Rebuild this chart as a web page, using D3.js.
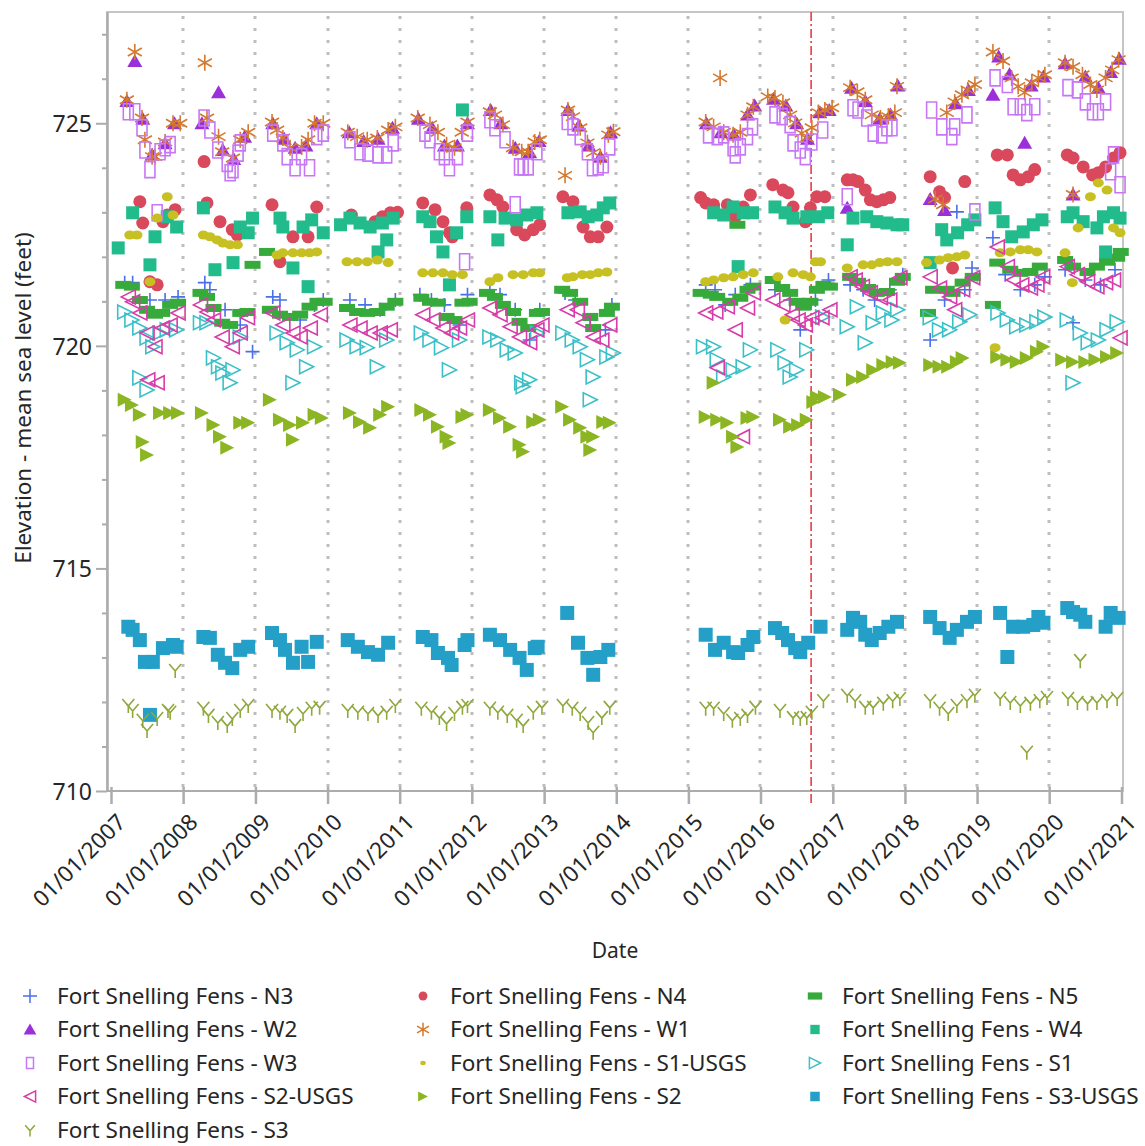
<!DOCTYPE html>
<html>
<head>
<meta charset="utf-8">
<script src="https://cdn.jsdelivr.net/npm/d3@7"></script>
<style>
body { margin:0; background:#fff; }
svg text { font-family: "Noto Sans", "Open Sans", sans-serif; fill:#262626; }
</style>
</head>
<body>
<div id="chart"></div>
<script>
// water levels, [decimal year, elevation in feet]
var n3 = [
[2007.19,721.42],[2007.30,721.42],[2007.54,721.03],[2007.75,721.03],[2007.93,721.1],
[2008.30,721.42],[2008.37,721.26],[2008.58,720.81],[2008.79,720.47],[2008.96,719.87],
[2009.24,721.1],[2009.34,721.03],[2009.62,720.58],[2009.82,720.92],[2009.94,721.03],
[2010.31,721.03],[2010.52,720.92],[2010.73,720.81],[2010.94,721.03],
[2011.28,721.15],[2011.44,721.03],[2011.62,720.92],[2011.83,720.47],[2011.94,721.15],
[2012.25,721.26],[2012.39,721.15],[2012.60,720.81],[2012.80,720.13],[2012.94,720.81],
[2013.29,721.19],[2013.43,721.03],[2013.64,720.58],[2013.85,720.36],[2013.94,720.92],
[2015.24,721.37],[2015.37,721.26],[2015.51,720.92],[2015.65,721.15],[2015.86,721.37],
[2016.20,721.26],[2016.41,721.03],[2016.55,720.36],[2016.76,721.03],[2016.94,721.48],
[2017.24,721.37],[2017.42,721.26],[2017.58,721.03],[2017.79,721.26],[2017.97,721.6],
[2018.35,720.13],[2018.55,721.03],[2018.72,723.01],[2018.83,721.26],[2018.93,721.75],
[2019.22,722.43],[2019.39,721.6],[2019.60,721.26],[2019.80,721.37],[2019.94,721.55],
[2020.22,721.71],[2020.33,720.52],[2020.50,721.48],[2020.71,721.37],[2020.91,721.71]
];
var n4 = [
[2007.40,723.24],[2007.44,722.76],[2007.54,721.44],[2007.64,721.37],[2007.72,722.79],[2007.78,722.94],[2007.89,723.06],
[2008.29,724.14],[2008.33,723.21],[2008.51,722.79],[2008.68,722.61],[2008.75,722.49],
[2009.23,723.17],[2009.34,721.89],[2009.52,722.45],[2009.73,722.45],[2009.85,723.12],
[2010.33,722.94],[2010.66,722.79],[2010.76,722.9],[2010.87,722.99],[2010.97,723.0],
[2011.32,723.21],[2011.49,723.06],[2011.60,722.79],[2011.69,722.54],[2011.73,722.45],[2011.93,723.1],
[2012.25,723.39],[2012.35,723.28],[2012.43,723.12],[2012.62,722.61],[2012.73,722.49],[2012.85,722.61],[2012.94,722.72],
[2013.26,723.35],[2013.40,723.24],[2013.54,722.67],[2013.64,722.45],[2013.75,722.45],[2013.87,722.67],
[2015.17,723.33],[2015.24,723.21],[2015.35,723.17],[2015.54,723.17],[2015.65,722.9],[2015.76,723.12],[2015.86,723.39],
[2016.17,723.62],[2016.31,723.5],[2016.38,723.44],[2016.45,723.12],[2016.62,722.79],[2016.69,723.1],[2016.78,723.35],[2016.89,723.35],
[2017.20,723.73],[2017.28,723.73],[2017.35,723.69],[2017.45,723.5],[2017.52,723.28],[2017.61,723.24],[2017.70,723.28],[2017.79,723.33],
[2018.35,723.8],[2018.48,723.46],[2018.55,723.33],[2018.66,721.75],[2018.83,723.69],
[2019.28,724.29],[2019.42,724.29],[2019.50,723.84],[2019.60,723.73],[2019.71,723.8],[2019.80,723.96],
[2020.25,724.29],[2020.33,724.22],[2020.47,724.02],[2020.60,723.84],[2020.68,723.89],[2020.78,724.02],[2020.89,724.22],[2020.98,724.34]
];
var n5 = [
[2007.17,721.37],[2007.29,721.33],[2007.40,721.03],[2007.50,720.81],[2007.61,720.7],[2007.71,720.74],[2007.82,720.92],[2007.93,720.97],
[2008.24,721.19],[2008.33,721.1],[2008.42,720.85],[2008.54,720.52],[2008.65,720.47],[2008.79,720.74],[2008.89,720.76],[2008.96,721.82],
[2009.16,722.11],[2009.20,720.81],[2009.34,720.7],[2009.48,720.65],[2009.62,720.7],[2009.75,720.88],[2009.86,720.99],[2009.96,720.99],
[2010.27,720.85],[2010.41,720.76],[2010.55,720.74],[2010.69,720.76],[2010.82,720.88],[2010.94,720.99],
[2011.30,721.08],[2011.42,720.99],[2011.53,720.97],[2011.65,720.65],[2011.76,720.58],[2011.87,720.97],[2011.97,720.99],
[2012.21,721.19],[2012.32,721.1],[2012.43,720.92],[2012.57,720.76],[2012.66,720.54],[2012.78,720.4],[2012.90,720.74],[2012.97,720.76],
[2013.25,721.26],[2013.36,721.19],[2013.50,720.99],[2013.64,720.65],[2013.68,720.4],[2013.87,720.74],[2013.94,720.88],
[2015.17,721.19],[2015.31,721.15],[2015.40,721.1],[2015.58,720.99],[2015.68,722.72],[2015.72,721.08],[2015.82,721.26],[2015.90,721.33],
[2016.17,721.48],[2016.30,721.3],[2016.41,721.19],[2016.50,720.99],[2016.59,720.88],[2016.69,720.99],[2016.78,721.26],[2016.87,721.37],[2016.96,721.33],
[2017.24,721.55],[2017.35,721.44],[2017.49,721.3],[2017.61,721.19],[2017.75,721.21],[2017.89,721.44],[2017.97,721.55],
[2018.32,720.74],[2018.39,721.26],[2018.58,721.26],[2018.66,721.19],[2018.80,721.42],[2018.94,721.55],
[2019.22,720.92],[2019.28,721.87],[2019.46,721.71],[2019.60,721.64],[2019.74,721.66],[2019.87,721.78],
[2020.22,721.93],[2020.33,721.78],[2020.53,721.66],[2020.66,721.78],[2020.80,721.89],[2020.94,721.98],[2020.99,722.11]
];
var w2 = [
[2007.22,725.5],[2007.33,726.4],[2007.44,725.1],[2007.57,724.3],[2007.75,724.55],[2007.88,725.0],
[2008.26,725.0],[2008.49,725.7],[2008.55,724.4],[2008.70,724.2],[2008.85,724.7],
[2009.24,725.0],[2009.40,724.65],[2009.55,724.45],[2009.70,724.5],[2009.85,725.0],
[2010.30,724.8],[2010.50,724.6],[2010.70,724.65],[2010.90,724.9],
[2011.26,725.1],[2011.45,724.9],[2011.62,724.5],[2011.80,724.5],[2011.94,725.0],
[2012.26,725.3],[2012.40,725.0],[2012.60,724.45],[2012.80,724.35],[2012.93,724.6],
[2013.33,725.3],[2013.48,724.95],[2013.62,724.5],[2013.78,724.25],[2013.92,724.8],
[2015.25,725.0],[2015.45,724.8],[2015.63,724.75],[2015.82,725.2],[2015.92,725.4],
[2016.18,725.55],[2016.35,725.4],[2016.50,725.0],[2016.65,724.65],[2016.82,725.25],[2016.95,725.3],
[2017.20,723.1],[2017.26,725.8],[2017.45,725.5],[2017.65,725.1],[2017.80,725.2],[2017.90,725.85],
[2018.35,723.3],[2018.55,723.05],[2018.70,725.45],[2018.88,725.75],
[2019.22,725.64],[2019.30,726.5],[2019.45,726.1],[2019.66,724.56],[2019.75,725.85],[2019.92,726.05],
[2020.22,726.35],[2020.33,723.4],[2020.50,726.05],[2020.68,725.8],[2020.85,726.15],[2020.97,726.45]
];
var w1 = [
[2007.22,725.53],[2007.33,726.6],[2007.43,725.12],[2007.47,724.63],[2007.57,724.25],[2007.61,724.25],[2007.75,724.58],[2007.86,725.0],[2007.96,725.0],
[2008.30,726.36],[2008.33,725.12],[2008.49,724.7],[2008.54,724.36],[2008.69,724.22],[2008.79,724.63],[2008.90,724.8],
[2009.23,725.03],[2009.30,724.85],[2009.38,724.67],[2009.48,724.45],[2009.64,724.47],[2009.73,724.63],[2009.82,725.0],[2009.94,725.0],
[2010.28,724.8],[2010.41,724.7],[2010.55,724.63],[2010.69,724.67],[2010.84,724.85],[2010.94,724.92],
[2011.25,725.12],[2011.42,724.97],[2011.53,724.8],[2011.65,724.52],[2011.76,724.45],[2011.86,724.8],[2011.94,725.03],
[2012.25,725.26],[2012.32,725.19],[2012.43,724.97],[2012.57,724.45],[2012.69,724.36],[2012.78,724.36],[2012.87,724.58],[2012.94,724.63],
[2013.29,723.83],[2013.33,725.3],[2013.40,725.15],[2013.50,724.9],[2013.60,724.56],[2013.68,724.34],[2013.78,724.25],[2013.89,724.74],[2013.96,724.81],
[2015.24,725.03],[2015.35,724.92],[2015.44,726.02],[2015.49,724.8],[2015.62,724.74],[2015.72,724.8],[2015.82,725.19],[2015.90,725.37],
[2016.10,725.6],[2016.20,725.57],[2016.31,725.46],[2016.41,725.19],[2016.48,725.01],[2016.57,724.78],[2016.64,724.67],[2016.71,724.9],[2016.80,725.24],[2016.89,725.3],[2016.99,725.35],
[2017.24,725.8],[2017.34,725.71],[2017.45,725.53],[2017.54,725.19],[2017.66,725.12],[2017.77,725.15],[2017.86,725.24],[2017.89,725.83],
[2018.42,723.3],[2018.53,723.17],[2018.58,725.24],[2018.69,725.48],[2018.79,725.64],[2018.87,725.75],[2018.97,725.87],
[2019.22,726.6],[2019.36,726.4],[2019.48,726.02],[2019.57,725.83],[2019.66,725.69],[2019.76,725.91],[2019.85,726.02],[2019.94,726.09],
[2020.22,726.36],[2020.33,726.27],[2020.33,723.4],[2020.46,726.09],[2020.57,725.87],[2020.66,725.75],[2020.78,726.02],[2020.87,726.2],[2020.96,726.43]
];
var w4 = [
[2007.10,722.2],[2007.30,722.99],[2007.54,721.82],[2007.61,722.45],[2007.78,722.9],[2007.91,722.67],
[2008.28,723.1],[2008.44,721.71],[2008.69,721.87],[2008.79,722.67],[2008.90,722.54],[2008.96,722.87],
[2009.34,722.87],[2009.38,722.67],[2009.52,721.75],[2009.66,722.67],[2009.73,721.33],[2009.78,722.83],[2009.94,722.54],
[2010.18,722.72],[2010.31,722.87],[2010.45,722.76],[2010.59,722.67],[2010.70,722.11],[2010.76,722.76],[2010.82,722.38],[2010.91,722.87],
[2011.32,722.9],[2011.42,722.79],[2011.51,722.45],[2011.60,722.11],[2011.69,721.37],[2011.79,722.54],[2011.87,725.3],[2011.93,722.9],
[2012.25,722.9],[2012.36,722.38],[2012.46,722.87],[2012.62,722.83],[2012.76,722.94],[2012.90,722.99],
[2013.33,722.99],[2013.50,723.01],[2013.61,722.9],[2013.73,722.94],[2013.82,723.1],[2013.91,723.21],
[2015.35,722.99],[2015.49,722.94],[2015.62,723.12],[2015.69,721.78],[2015.76,722.99],[2015.89,722.99],
[2016.20,723.12],[2016.34,722.99],[2016.45,722.87],[2016.64,722.9],[2016.80,722.9],[2016.93,722.99],
[2017.20,722.27],[2017.28,722.87],[2017.47,722.9],[2017.61,722.79],[2017.75,722.76],[2017.89,722.72],[2017.97,722.72],
[2018.35,721.87],[2018.51,722.61],[2018.58,722.38],[2018.73,722.54],[2018.87,722.72],[2018.97,722.83],
[2019.25,723.1],[2019.36,722.79],[2019.48,722.45],[2019.64,722.56],[2019.78,722.72],[2019.90,722.83],
[2020.25,722.9],[2020.33,722.99],[2020.47,722.79],[2020.66,722.65],[2020.75,722.9],[2020.78,722.11],[2020.89,722.99],[2020.98,722.87]
];
var w3 = [
[2007.24,725.26],[2007.33,725.26],[2007.43,724.9],[2007.47,724.4],[2007.54,723.96],[2007.64,722.99],[2007.68,724.36],[2007.75,724.45],[2007.82,724.52],
[2008.29,725.12],[2008.37,724.85],[2008.48,724.4],[2008.61,724.1],[2008.65,723.89],[2008.69,723.96],[2008.76,724.33],[2008.79,724.56],
[2009.24,724.78],[2009.38,724.56],[2009.44,724.25],[2009.55,724.0],[2009.64,724.25],[2009.75,724.0],[2009.85,724.7],[2009.94,724.78],
[2010.31,724.63],[2010.45,724.36],[2010.56,724.33],[2010.70,724.29],[2010.82,724.29],[2010.91,724.56],
[2011.35,724.78],[2011.42,724.63],[2011.55,724.36],[2011.62,724.25],[2011.69,724.0],[2011.80,724.25],[2011.90,721.89],[2011.94,724.78],
[2012.25,725.08],[2012.32,724.9],[2012.46,724.63],[2012.60,723.17],[2012.66,724.02],[2012.71,724.02],[2012.78,724.02],[2012.90,724.36],
[2013.32,725.04],[2013.40,724.92],[2013.50,724.7],[2013.60,724.36],[2013.67,724.0],[2013.75,724.02],[2013.82,724.07],[2013.91,724.47],
[2015.28,724.74],[2015.40,724.7],[2015.49,724.74],[2015.62,724.45],[2015.65,724.29],[2015.72,724.47],[2015.82,724.7],[2015.89,724.92],
[2016.20,725.19],[2016.30,725.15],[2016.41,724.97],[2016.45,724.56],[2016.55,724.4],[2016.62,724.25],[2016.71,724.58],[2016.86,724.85],
[2017.20,723.35],[2017.28,725.35],[2017.35,725.3],[2017.47,725.12],[2017.56,724.78],[2017.68,724.74],[2017.75,724.9],[2017.82,724.9],
[2018.37,725.3],[2018.51,724.92],[2018.65,724.7],[2018.69,724.92],[2018.86,725.19],[2018.97,723.01],
[2019.25,726.02],[2019.42,725.87],[2019.50,725.37],[2019.60,725.37],[2019.69,725.24],[2019.80,725.37],
[2020.26,725.8],[2020.39,725.75],[2020.50,725.48],[2020.60,725.26],[2020.68,725.26],[2020.78,725.48],[2020.85,723.91],[2020.89,724.29],[2020.98,723.62]
];
var s1usgs = [
[2007.26,722.49],[2007.36,722.49],[2007.54,721.44],[2007.64,722.87],[2007.78,723.35],[2007.86,722.94],
[2008.28,722.49],[2008.37,722.45],[2008.47,722.38],[2008.55,722.31],[2008.65,722.27],[2008.75,722.27],
[2009.30,722.04],[2009.38,722.09],[2009.52,722.09],[2009.64,722.09],[2009.75,722.09],[2009.85,722.11],
[2010.27,721.89],[2010.41,721.89],[2010.55,721.89],[2010.69,721.93],[2010.84,721.87],
[2011.32,721.64],[2011.46,721.64],[2011.60,721.64],[2011.73,721.6],[2011.87,721.6],
[2012.25,721.44],[2012.36,721.53],[2012.57,721.6],[2012.71,721.6],[2012.85,721.64],[2012.94,721.64],
[2013.32,721.53],[2013.40,721.55],[2013.53,721.6],[2013.64,721.6],[2013.75,721.64],[2013.87,721.66],
[2015.24,721.44],[2015.35,721.48],[2015.49,721.53],[2015.62,721.55],[2015.76,721.6],[2015.90,721.64],
[2016.24,721.55],[2016.34,720.58],[2016.45,721.64],[2016.59,721.6],[2016.69,721.55],[2016.76,721.89],[2016.83,721.89],
[2017.20,721.75],[2017.42,721.82],[2017.54,721.82],[2017.65,721.87],[2017.76,721.89],[2017.89,721.89],
[2018.30,721.87],[2018.48,721.93],[2018.60,721.98],[2018.72,722.0],[2018.83,722.04],
[2019.25,719.96],[2019.32,722.09],[2019.46,722.11],[2019.60,722.16],[2019.71,722.16],[2019.83,722.11],
[2020.22,722.09],[2020.32,721.42],[2020.40,722.65],[2020.57,723.35],[2020.68,723.66],[2020.80,723.5],[2020.89,722.65],[2020.98,722.54]
];
var s1 = [
[2007.19,720.76],[2007.29,720.58],[2007.40,720.4],[2007.40,719.28],[2007.50,720.18],[2007.50,719.01],[2007.58,719.98],[2007.68,720.29],[2007.78,720.36],[2007.91,720.36],
[2008.24,720.52],[2008.33,720.52],[2008.42,719.73],[2008.49,719.53],[2008.55,719.39],[2008.65,719.17],[2008.69,719.46],[2008.79,720.2],
[2009.30,720.29],[2009.44,720.07],[2009.52,719.17],[2009.58,719.91],[2009.71,719.53],[2009.82,719.98],
[2010.27,720.13],[2010.41,719.98],[2010.55,719.96],[2010.69,719.53],[2010.82,720.13],
[2011.30,720.29],[2011.42,720.13],[2011.58,719.96],[2011.69,719.46],[2011.83,720.13],
[2012.25,720.2],[2012.36,720.13],[2012.49,719.91],[2012.60,719.84],[2012.69,719.17],[2012.71,719.08],[2012.80,719.24],[2012.91,720.29],
[2013.26,720.29],[2013.39,720.13],[2013.50,719.98],[2013.60,719.69],[2013.64,718.79],[2013.68,719.3],[2013.87,719.75],[2013.96,719.84],
[2015.21,719.98],[2015.35,719.98],[2015.40,719.69],[2015.49,719.3],[2015.62,719.46],[2015.76,719.53],[2015.86,719.91],
[2016.24,719.91],[2016.34,719.62],[2016.41,719.3],[2016.50,719.46],[2016.64,719.91],[2016.86,720.65],
[2017.20,720.43],[2017.34,720.88],[2017.45,720.07],[2017.56,720.52],[2017.70,720.74],[2017.82,720.58],[2017.90,720.81],
[2018.35,720.63],[2018.48,720.36],[2018.62,720.36],[2018.76,720.54],[2018.90,720.7],
[2019.29,720.74],[2019.42,720.58],[2019.55,720.43],[2019.69,720.47],[2019.83,720.54],[2019.94,720.65],
[2020.25,720.58],[2020.33,719.17],[2020.43,720.29],[2020.54,720.07],[2020.68,720.13],[2020.80,720.36],[2020.94,720.54]
];
var s2usgs = [
[2007.24,721.1],[2007.30,720.99],[2007.40,720.74],[2007.50,720.29],[2007.51,719.24],[2007.61,719.98],[2007.64,719.17],[2007.71,720.4],[2007.82,720.47],[2007.93,720.74],
[2008.24,720.92],[2008.33,720.76],[2008.42,720.58],[2008.54,720.2],[2008.68,719.98],[2008.79,720.29],[2008.89,720.63],
[2009.24,720.74],[2009.38,720.47],[2009.52,720.29],[2009.62,720.2],[2009.76,720.4],[2009.90,720.7],
[2010.31,720.47],[2010.45,720.4],[2010.59,720.29],[2010.73,720.29],[2010.87,720.36],
[2011.32,720.7],[2011.46,720.58],[2011.60,720.4],[2011.72,720.29],[2011.83,720.4],[2011.94,720.58],
[2012.25,720.85],[2012.39,720.7],[2012.53,720.43],[2012.66,720.2],[2012.80,720.07],[2012.90,720.36],[2012.97,720.47],
[2013.32,720.81],[2013.46,720.81],[2013.54,720.52],[2013.68,720.2],[2013.80,720.13],[2013.91,720.47],
[2015.24,720.74],[2015.38,720.76],[2015.40,719.51],[2015.54,720.88],[2015.65,720.36],[2015.75,717.96],[2015.82,720.85],[2015.90,721.19],
[2016.17,721.03],[2016.31,720.92],[2016.44,720.7],[2016.52,720.58],[2016.62,720.47],[2016.71,720.63],[2016.85,720.63],[2016.96,720.81],
[2017.24,721.55],[2017.31,721.48],[2017.41,721.33],[2017.52,721.19],[2017.66,721.08],[2017.79,721.03],[2017.93,721.53],
[2018.35,721.55],[2018.48,721.3],[2018.62,721.1],[2018.69,720.81],[2018.80,721.26],[2018.94,721.53],
[2019.28,722.22],[2019.42,721.78],[2019.50,721.48],[2019.62,721.37],[2019.74,721.3],[2019.83,721.37],[2019.91,721.55],
[2020.25,721.78],[2020.39,721.6],[2020.53,721.44],[2020.66,721.33],[2020.78,721.42],[2020.89,721.48],[2020.98,720.18]
];
var s2 = [
[2007.19,718.79],[2007.29,718.67],[2007.40,718.45],[2007.44,717.84],[2007.50,717.55],[2007.68,718.49],[2007.82,718.49],[2007.93,718.49],
[2008.26,718.49],[2008.42,718.22],[2008.51,717.96],[2008.61,717.71],[2008.79,718.27],[2008.90,718.27],
[2009.20,718.79],[2009.34,718.34],[2009.48,718.22],[2009.52,717.89],[2009.66,718.27],[2009.82,718.45],[2009.92,718.38],
[2010.31,718.49],[2010.45,718.29],[2010.59,718.16],[2010.73,718.45],[2010.84,718.63],
[2011.30,718.56],[2011.42,718.45],[2011.53,718.18],[2011.65,717.96],[2011.69,717.82],[2011.87,718.4],[2011.94,718.45],
[2012.25,718.56],[2012.39,718.38],[2012.53,718.18],[2012.66,717.78],[2012.71,717.62],[2012.85,718.29],[2012.94,718.34],
[2013.25,718.63],[2013.36,718.34],[2013.50,718.16],[2013.60,717.96],[2013.64,717.66],[2013.68,717.96],[2013.82,718.29],[2013.91,718.27],
[2015.24,718.4],[2015.35,719.17],[2015.40,718.34],[2015.54,718.27],[2015.62,717.96],[2015.68,717.73],[2015.82,718.38],[2015.90,718.4],
[2016.27,718.34],[2016.41,718.18],[2016.52,718.22],[2016.64,718.34],[2016.73,718.74],[2016.78,718.85],[2016.89,718.85],
[2017.10,718.9],[2017.28,719.24],[2017.42,719.3],[2017.56,719.46],[2017.70,719.57],[2017.83,719.64],[2017.93,719.62],
[2018.35,719.57],[2018.48,719.53],[2018.60,719.53],[2018.72,719.64],[2018.80,719.73],
[2019.28,719.75],[2019.42,719.69],[2019.55,719.64],[2019.69,719.73],[2019.83,719.87],[2019.92,719.98],
[2020.18,719.69],[2020.33,719.64],[2020.50,719.64],[2020.64,719.69],[2020.80,719.75],[2020.94,719.84]
];
var s3usgs = [
[2007.24,713.69],[2007.30,713.62],[2007.40,713.39],[2007.47,712.9],[2007.54,711.71],[2007.58,712.9],[2007.72,713.21],[2007.86,713.28],[2007.91,713.24],
[2008.28,713.46],[2008.37,713.44],[2008.48,713.06],[2008.58,712.88],[2008.68,712.76],[2008.79,713.17],[2008.90,713.24],
[2009.23,713.55],[2009.34,713.39],[2009.41,713.17],[2009.52,712.88],[2009.64,713.24],[2009.73,712.9],[2009.85,713.35],
[2010.28,713.39],[2010.42,713.24],[2010.56,713.12],[2010.70,713.06],[2010.84,713.33],
[2011.32,713.46],[2011.44,713.39],[2011.53,713.1],[2011.67,712.99],[2011.72,712.83],[2011.90,713.28],[2011.94,713.39],
[2012.25,713.51],[2012.39,713.39],[2012.53,713.17],[2012.66,712.99],[2012.76,712.72],[2012.87,713.21],[2012.91,713.24],
[2013.32,714.0],[2013.47,713.33],[2013.60,712.99],[2013.68,712.61],[2013.78,713.01],[2013.89,713.17],
[2015.24,713.51],[2015.37,713.17],[2015.49,713.33],[2015.62,713.12],[2015.69,713.1],[2015.82,713.28],[2015.90,713.46],
[2016.20,713.66],[2016.30,713.55],[2016.38,713.39],[2016.48,713.21],[2016.55,713.12],[2016.66,713.33],[2016.83,713.69],
[2017.20,713.62],[2017.28,713.89],[2017.38,713.8],[2017.45,713.51],[2017.54,713.39],[2017.65,713.55],[2017.77,713.69],[2017.89,713.8],
[2018.35,713.91],[2018.48,713.66],[2018.62,713.44],[2018.72,713.62],[2018.86,713.8],[2018.97,713.91],
[2019.32,714.0],[2019.42,713.01],[2019.50,713.69],[2019.64,713.69],[2019.78,713.73],[2019.85,713.91],[2019.92,713.78],
[2020.25,714.11],[2020.33,714.02],[2020.43,713.96],[2020.50,713.8],[2020.78,713.69],[2020.85,714.0],[2020.96,713.89]
];
var s3 = [
[2007.24,711.93],[2007.30,711.82],[2007.44,711.6],[2007.50,711.37],[2007.64,711.64],[2007.79,711.82],[2007.82,711.78],[2007.89,712.72],
[2008.28,711.87],[2008.35,711.71],[2008.48,711.55],[2008.61,711.48],[2008.68,711.64],[2008.79,711.82],[2008.90,711.93],
[2009.23,711.82],[2009.34,711.78],[2009.44,711.71],[2009.55,711.48],[2009.66,711.75],[2009.78,711.87],[2009.89,711.89],
[2010.28,711.82],[2010.42,711.78],[2010.56,711.75],[2010.70,711.71],[2010.82,711.78],[2010.94,711.93],
[2011.30,711.87],[2011.44,711.78],[2011.55,711.66],[2011.65,711.53],[2011.76,711.75],[2011.87,711.89],[2011.94,711.93],
[2012.25,711.87],[2012.36,711.78],[2012.49,711.71],[2012.62,711.6],[2012.71,711.48],[2012.85,711.78],[2012.97,711.89],
[2013.26,711.93],[2013.39,711.87],[2013.50,711.75],[2013.61,711.55],[2013.68,711.33],[2013.80,711.66],[2013.91,711.89],
[2015.24,711.87],[2015.35,711.87],[2015.49,711.75],[2015.61,711.6],[2015.72,711.64],[2015.82,711.71],[2015.93,711.89],
[2016.27,711.82],[2016.45,711.66],[2016.55,711.64],[2016.64,711.66],[2016.71,711.78],[2016.87,712.04],
[2017.20,712.16],[2017.31,712.04],[2017.45,711.89],[2017.56,711.89],[2017.70,711.98],[2017.83,712.04],[2017.93,712.09],
[2018.35,712.04],[2018.48,711.87],[2018.60,711.75],[2018.72,711.93],[2018.86,712.04],[2018.97,712.16],
[2019.32,712.09],[2019.46,712.0],[2019.60,711.93],[2019.69,710.88],[2019.74,711.98],[2019.87,712.04],[2019.97,712.11],
[2020.26,712.09],[2020.39,712.0],[2020.43,712.94],[2020.53,711.98],[2020.66,712.0],[2020.80,712.04],[2020.94,712.09]
];

var stations = ["N3","N4","N5","W2","W1","W4","W3","S1-USGS","S1","S2-USGS","S2","S3-USGS","S3"];
var seriesData = [n3, n4, n5, w2, w1, w4, w3, s1usgs, s1, s2usgs, s2, s3usgs, s3];
var seriesColors = ["#4a6fe6","#d9485b","#36ab3c","#9b2fd9","#d4792f","#22bb8b","#c777f6","#c6c023","#3cc0c7","#d83ca9","#8bb522","#239fc8","#8ea83b"];
var seriesShapes = ["plus","circle","wideRect","triUp","asterisk","square","tallRect","dot","triRightOpen","triLeftOpen","triRight","bigSquare","yMark"];
var yearTicks = d3.range(2007, 2022);
var changeDate = 2016.70;

var shapes = {
  plus:        {d:"M-7,0H7M0,-7V7", fill:false},
  circle:      {d:"M-6.5,0A6.5,6.5 0 1,0 6.5,0A6.5,6.5 0 1,0 -6.5,0Z", fill:true, legend:0.68},
  wideRect:    {d:"M-8,-4H8V4H-8Z", fill:true, legend:0.9},
  triUp:       {d:"M0,-7L7.5,6L-7.5,6Z", fill:true, legend:0.85},
  asterisk:    {d:"M0,-8V8M-7,-4L7,4M-7,4L7,-4", fill:false, legend:0.85},
  square:      {d:"M-6.5,-6.5H6.5V6.5H-6.5Z", fill:true, legend:0.72},
  tallRect:    {d:"M-5,-8H5V8H-5Z", fill:false, legend:0.7},
  dot:         {d:"M-5.5,0A5.5,4.5 0 1,0 5.5,0A5.5,4.5 0 1,0 -5.5,0Z", fill:true, legend:0.5},
  triRightOpen:{d:"M7,0L-7,-7L-7,7Z", fill:false, legend:0.8},
  triLeftOpen: {d:"M-7,0L7,-7L7,7Z", fill:false, legend:0.8},
  triRight:    {d:"M7,0L-7,-7L-7,7Z", fill:true, legend:0.7},
  bigSquare:   {d:"M-7,-7H7V7H-7Z", fill:true, legend:0.68},
  yMark:       {d:"M0,1L-6,-6M0,1L6,-6M0,1V8", fill:false, legend:0.8}
};

function toDate(dy) {
  var yr = Math.floor(dy);
  var a = new Date(yr, 0, 1), b = new Date(yr + 1, 0, 1);
  return new Date(+a + (dy - yr) * (b - a));
}

var W = 1145, H = 1146,
    plot = {left:107, right:1123, top:12, bottom:791};

var svg = d3.select("#chart").append("svg")
    .attr("width", W)
    .attr("height", H);

var x = d3.scaleTime()
    .domain([toDate(2007), toDate(2021)])
    .range([111, 1121.5]);
var y = d3.scaleLinear()
    .domain([710, 727.5])
    .range([plot.bottom, plot.top]);

// year gridlines
svg.append("g").selectAll("line")
    .data(yearTicks.slice(1, -1))
    .enter().append("line")
    .attr("x1", function(d){ return Math.round(x(toDate(d))); })
    .attr("x2", function(d){ return Math.round(x(toDate(d))); })
    .attr("y1", plot.top + 4)
    .attr("y2", plot.bottom)
    .attr("stroke", "#bdbdbd")
    .attr("stroke-width", 3)
    .attr("stroke-dasharray", "3,9");

// frame
svg.append("rect")
    .attr("x", plot.left).attr("y", plot.top)
    .attr("width", plot.right - plot.left).attr("height", plot.bottom - plot.top)
    .attr("fill", "none").attr("stroke", "#c6c6c6").attr("stroke-width", 2);

// y axis
var yMinor = svg.append("g")
    .attr("transform", "translate(" + plot.left + ",0)")
    .call(d3.axisLeft(y).tickValues(d3.range(711, 728).filter(function(v){ return v % 5 != 0; }))
        .tickSize(5).tickSizeOuter(0).tickFormat(""));
var yMajor = svg.append("g")
    .attr("transform", "translate(" + plot.left + ",0)")
    .call(d3.axisLeft(y).tickValues([710, 715, 720, 725]).tickSize(11).tickSizeOuter(0).tickPadding(4));
[yMinor, yMajor].forEach(function(g){
    g.select(".domain").attr("stroke", "#acacac").attr("stroke-width", 2);
    g.selectAll(".tick line").attr("stroke", "#acacac").attr("stroke-width", 2);
});
yMajor.selectAll(".tick text")
    .style("font-size", "23px").attr("fill", "#262626").attr("dy", "0.36em");

// x axis
var xAxis = svg.append("g")
    .attr("transform", "translate(0," + plot.bottom + ")")
    .call(d3.axisBottom(x).tickValues(yearTicks.map(toDate)).tickSize(13).tickSizeOuter(0)
        .tickFormat(d3.timeFormat("%m/%d/%Y")));
xAxis.select(".domain").attr("stroke", "#acacac").attr("stroke-width", 2)
    .attr("d", "M" + plot.left + ",0H" + plot.right);
xAxis.selectAll(".tick line").attr("y1", -4).attr("stroke", "#acacac").attr("stroke-width", 2.5);
xAxis.selectAll(".tick text")
    .attr("x", 0).attr("y", 0).attr("dy", "0.35em")
    .attr("text-anchor", "end")
    .attr("transform", "translate(10,27) rotate(-45)")
    .style("font-size", "22.5px").attr("fill", "#262626");

// marker when data changed
svg.append("line")
    .attr("x1", x(toDate(changeDate))).attr("x2", x(toDate(changeDate)))
    .attr("y1", plot.top).attr("y2", plot.bottom + 12)
    .attr("stroke", "#ee3a46").attr("stroke-width", 1.6)
    .attr("stroke-dasharray", "9,3,2,3");

// points
seriesData.forEach(function(data, i){
    var sh = shapes[seriesShapes[i]], col = seriesColors[i];
    svg.append("g").selectAll("path")
        .data(data)
        .enter().append("path")
        .attr("d", sh.d)
        .attr("transform", function(d){ return "translate(" + x(toDate(d[0])) + "," + y(d[1]) + ")"; })
        .attr("fill", sh.fill ? col : "none")
        .attr("stroke", sh.fill ? "none" : col)
        .attr("stroke-width", 1.6);
});

// axis titles
svg.append("text")
    .attr("transform", "translate(31,398) rotate(-90)")
    .attr("text-anchor", "middle")
    .style("font-size", "22.5px")
    .text("Elevation - mean sea level (feet)");
svg.append("text")
    .attr("x", 615).attr("y", 958)
    .attr("text-anchor", "middle")
    .style("font-size", "21px")
    .text("Date");

// legend
var legend = svg.append("g").selectAll("g")
    .data(stations)
    .enter().append("g")
    .attr("transform", function(d, i){
        return "translate(" + [30, 423, 815][i % 3] + "," + (996 + 33.5 * Math.floor(i / 3)) + ")";
    });
legend.append("path")
    .attr("d", function(d, i){ return shapes[seriesShapes[i]].d; })
    .attr("transform", function(d, i){ return "scale(" + (shapes[seriesShapes[i]].legend || 1) + ")"; })
    .attr("vector-effect", "non-scaling-stroke")
    .attr("fill", function(d, i){ return shapes[seriesShapes[i]].fill ? seriesColors[i] : "none"; })
    .attr("stroke", function(d, i){ return shapes[seriesShapes[i]].fill ? "none" : seriesColors[i]; })
    .attr("stroke-width", 1.5);
legend.append("text")
    .attr("x", 27).attr("dy", "0.35em")
    .style("font-size", "22.5px")
    .text(function(d){ return "Fort Snelling Fens - " + d; });
</script>
</body>
</html>
